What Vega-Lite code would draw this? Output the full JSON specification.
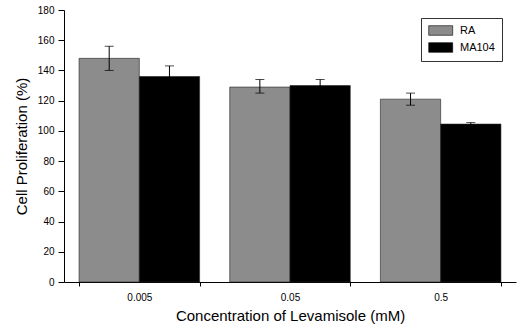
{
  "$schema": "https://vega.github.io/schema/vega-lite/v6.json",
  "width": 452,
  "height": 272,
  "autosize": {"type": "none"},
  "padding": {"left": 64, "top": 10, "right": 3, "bottom": 49},
  "background": "white",
  "config": {
    "view": {"stroke": null},
    "font": "Liberation Sans",
    "axis": {"labelFont": "Liberation Sans", "titleFont": "Liberation Sans", "labelColor": "black", "titleColor": "black", "domainColor": "black", "tickColor": "black", "grid": false},
    "axisY": {"labelOverlap": false, "labelFlush": false, "labelBound": false}
  },
  "data": {
    "values": [
      {"conc": "0.005", "group": "RA", "value": 148, "lo": 140, "hi": 156},
      {"conc": "0.005", "group": "MA104", "value": 136, "lo": 129, "hi": 143},
      {"conc": "0.05", "group": "RA", "value": 129, "lo": 125, "hi": 134},
      {"conc": "0.05", "group": "MA104", "value": 130, "lo": 127, "hi": 134},
      {"conc": "0.5", "group": "RA", "value": 121, "lo": 117, "hi": 125},
      {"conc": "0.5", "group": "MA104", "value": 104.5, "lo": 103.5, "hi": 105.5}
    ]
  },
  "encoding": {
    "x": {
      "field": "conc", "type": "nominal", "sort": ["0.005", "0.05", "0.5"],
      "scale": {"paddingInner": 0.2, "paddingOuter": 0.1},
      "axis": {"title": "Concentration of Levamisole (mM)", "labelAngle": 0, "labelFontSize": 10, "titleFontSize": 15, "titleFontWeight": "normal", "tickBand": "extent", "tickSize": 4, "labelPadding": 6, "titlePadding": 6, "domainWidth": 1}
    },
    "xOffset": {"field": "group", "type": "nominal", "sort": ["RA", "MA104"], "scale": {"paddingInner": 0, "paddingOuter": 0}}
  },
  "layer": [
    {
      "mark": {"type": "bar", "stroke": "#222", "strokeWidth": 0.6},
      "encoding": {
        "y": {
          "field": "value", "type": "quantitative",
          "scale": {"domain": [0, 180], "nice": false},
          "axis": {"title": "Cell Proliferation (%)", "values": [0, 20, 40, 60, 80, 100, 120, 140, 160, 180], "labelOverlap": false, "labelFlush": false, "labelFontSize": 10, "titleFontSize": 15, "titleFontWeight": "normal", "tickSize": 6, "labelPadding": 4, "titlePadding": 8, "domainWidth": 1}
        },
        "color": {
          "field": "group", "type": "nominal", "sort": ["RA", "MA104"],
          "scale": {"domain": ["RA", "MA104"], "range": ["#8c8c8c", "#000000"]},
          "legend": {
            "title": null, "orient": "none", "legendX": 357, "legendY": 8,
            "strokeColor": "#333", "padding": 7,
            "symbolType": "M-1,-1H4V1H-1Z", "symbolSize": 92,
            "symbolStrokeColor": "black", "symbolStrokeWidth": 0.6, "symbolOpacity": 1,
            "labelFontSize": 11, "labelColor": "black", "rowPadding": 4, "labelOffset": 21
          }
        }
      }
    },
    {
      "mark": {"type": "rule", "color": "black", "strokeWidth": 1},
      "encoding": {
        "y": {"field": "lo", "type": "quantitative",
          "axis": {"title": "Cell Proliferation (%)", "values": [0, 20, 40, 60, 80, 100, 120, 140, 160, 180], "labelOverlap": false, "labelFlush": false, "labelFontSize": 10, "titleFontSize": 15, "titleFontWeight": "normal", "tickSize": 6, "labelPadding": 4, "titlePadding": 8, "domainWidth": 1}},
        "y2": {"field": "hi"}
      }
    },
    {
      "mark": {"type": "tick", "color": "black", "size": 9, "thickness": 1},
      "encoding": {"y": {"field": "hi", "type": "quantitative",
          "axis": {"title": "Cell Proliferation (%)", "values": [0, 20, 40, 60, 80, 100, 120, 140, 160, 180], "labelOverlap": false, "labelFlush": false, "labelFontSize": 10, "titleFontSize": 15, "titleFontWeight": "normal", "tickSize": 6, "labelPadding": 4, "titlePadding": 8, "domainWidth": 1}}}
    },
    {
      "mark": {"type": "tick", "color": "black", "size": 9, "thickness": 1},
      "encoding": {"y": {"field": "lo", "type": "quantitative",
          "axis": {"title": "Cell Proliferation (%)", "values": [0, 20, 40, 60, 80, 100, 120, 140, 160, 180], "labelOverlap": false, "labelFlush": false, "labelFontSize": 10, "titleFontSize": 15, "titleFontWeight": "normal", "tickSize": 6, "labelPadding": 4, "titlePadding": 8, "domainWidth": 1}}}
    }
  ]
}
